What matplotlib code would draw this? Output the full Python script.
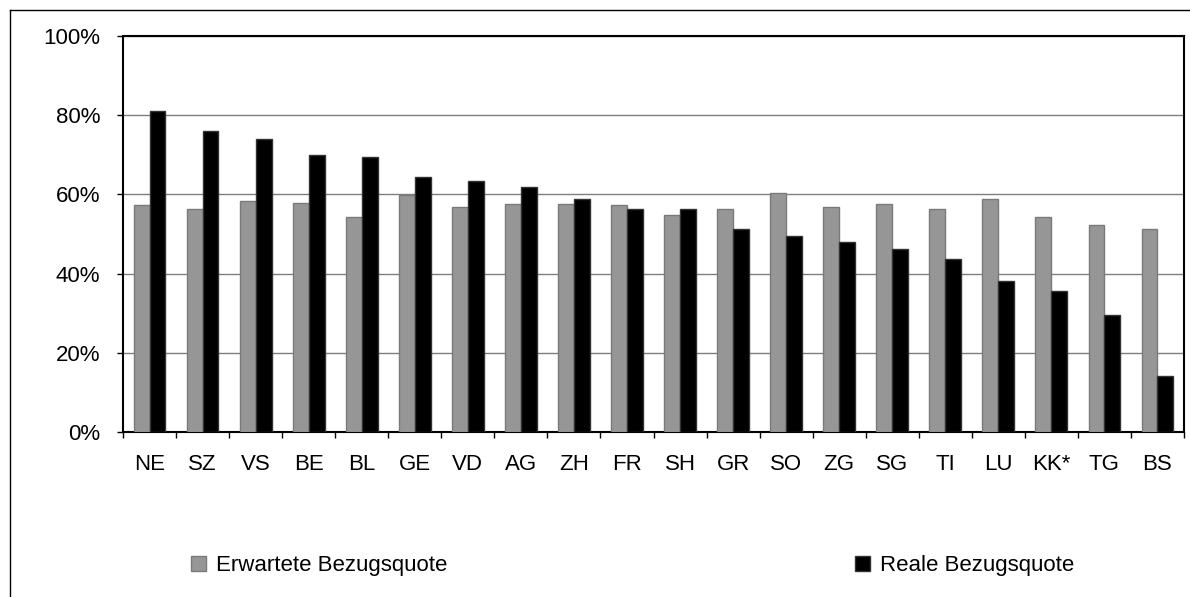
import matplotlib
matplotlib.use("Agg")
import matplotlib.pyplot as plt
import numpy as np
from matplotlib.lines import Line2D
from matplotlib.ticker import FixedLocator, FuncFormatter

plt.rcParams['font.family'] = ['Liberation Sans', 'DejaVu Sans']

categories = ["NE", "SZ", "VS", "BE", "BL", "GE", "VD", "AG", "ZH", "FR",
              "SH", "GR", "SO", "ZG", "SG", "TI", "LU", "KK*", "TG", "BS"]
erwartete = [57.3, 56.3, 58.4, 57.8, 54.3, 59.8, 56.8, 57.7, 57.7, 57.3,
             54.8, 56.2, 60.3, 56.8, 57.7, 56.3, 58.9, 54.3, 52.2, 51.2]
reale = [81.1, 76.1, 74.0, 69.9, 69.4, 64.4, 63.4, 61.8, 58.8, 56.3,
         56.2, 51.2, 49.6, 48.1, 46.3, 43.7, 38.2, 35.5, 29.5, 14.2]
y_ticks = [0, 20, 40, 60, 80, 100]
legend_labels = ["Erwartete Bezugsquote", "Reale Bezugsquote"]

W, H = 1190, 597
fig = plt.figure(figsize=(W / 100, H / 100), dpi=100)
ax = fig.add_axes([123 / W, 1 - 432 / H, (1184 - 123) / W, (432 - 36) / H])

x = np.arange(len(categories)) + 0.5
bw = 0.3
b1 = ax.bar(x - bw / 2, erwartete, width=bw, color="#969696", edgecolor="#7a7a7a", linewidth=1.0, zorder=3,
            label=legend_labels[0])
b2 = ax.bar(x + bw / 2, reale, width=bw, color="#000000", edgecolor="#333333", linewidth=1.0, zorder=3,
            label=legend_labels[1])

ax.set_xlim(0, len(categories))
ax.set_ylim(0, 100)
ax.set_yticks(y_ticks)
ax.yaxis.set_major_formatter(FuncFormatter(lambda v, p: f"{int(v)}%"))
ax.yaxis.grid(True, color="#7f7f7f", linewidth=1.0, zorder=0)
ax.tick_params(axis="y", labelsize=16, length=4.3, width=1, pad=12, colors="black")

ax.set_xticks(x)
ax.set_xticklabels(categories)
ax.tick_params(axis="x", which="major", length=0, labelsize=16, pad=16)
ax.xaxis.set_minor_locator(FixedLocator(np.arange(0, len(categories) + 1)))
ax.tick_params(axis="x", which="minor", length=4.3, width=1, direction="out")

for s in ["left", "bottom", "top", "right"]:
    ax.spines[s].set_linewidth(1.5)
    ax.spines[s].set_color("black")

# outer border (top and left visible)
fig.add_artist(Line2D([10 / W, 10 / W], [0, 1 - 10 / H], transform=fig.transFigure, color="black", linewidth=1.0))
fig.add_artist(Line2D([10 / W, 1], [1 - 10 / H, 1 - 10 / H], transform=fig.transFigure, color="black", linewidth=1.0))

# legend
common = dict(frameon=False, fontsize=16, handlelength=0.68, handleheight=0.68, handletextpad=0.45, borderpad=0,
              borderaxespad=0)
fig.legend(handles=[b1], labels=[legend_labels[0]], loc="center left", bbox_to_anchor=(191 / W, 1 - 566 / H),
           **common)
fig.legend(handles=[b2], labels=[legend_labels[1]], loc="center left", bbox_to_anchor=(855 / W, 1 - 566 / H),
           **common)

fig.savefig("out.png", dpi=100)
